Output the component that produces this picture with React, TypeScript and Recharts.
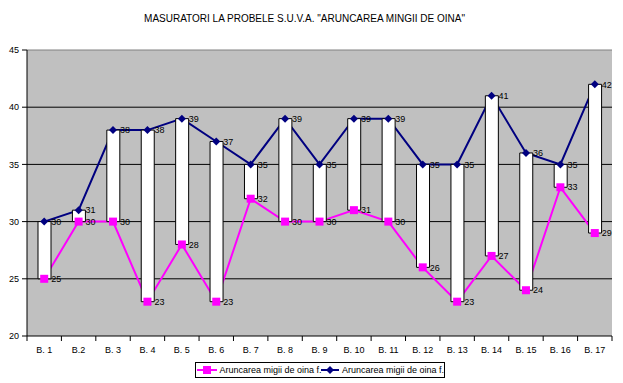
import React from "react";
import {
  ComposedChart, Line, Bar, XAxis, YAxis, CartesianGrid, Legend, LabelList, ReferenceLine,
} from "recharts";

const categories = [
  "B. 1", "B.2", "B. 3", "B. 4", "B. 5", "B. 6", "B. 7", "B. 8", "B. 9",
  "B. 10", "B. 11", "B. 12", "B. 13", "B. 14", "B. 15", "B. 16", "B. 17",
];
const pinkValues = [25, 30, 30, 23, 28, 23, 32, 30, 30, 31, 30, 26, 23, 27, 24, 33, 29];
const navyValues = [30, 31, 38, 38, 39, 37, 35, 39, 35, 39, 39, 35, 35, 41, 36, 35, 42];
const yTicks = [20, 25, 30, 35, 40, 45];
const gridValues = [25, 30, 35, 40];
const seriesName = "Aruncarea migii de oina f.";
const title = 'MASURATORI LA PROBELE S.U.V.A. "ARUNCAREA MINGII DE OINA"';

const PINK = "#FF00FF";
const NAVY = "#000080";
const FONT = "'Liberation Sans', Arial, sans-serif";
const HALF_BAND = 585 / 17 / 2;

const data = categories.map((name, i) => ({
  name,
  pink: pinkValues[i],
  navy: navyValues[i],
  range: [Math.min(pinkValues[i], navyValues[i]), Math.max(pinkValues[i], navyValues[i])],
}));

function SquareDot(props: any) {
  const { cx, cy } = props;
  if (cx == null || cy == null) return null;
  return <rect x={cx - 4} y={cy - 4} width={8} height={8} fill={PINK} />;
}

function DiamondDot(props: any) {
  const { cx, cy } = props;
  if (cx == null || cy == null) return null;
  const r = 4;
  return <polygon points={`${cx},${cy - r} ${cx + r},${cy} ${cx},${cy + r} ${cx - r},${cy}`} fill={NAVY} />;
}

function XTick(props: any) {
  const { x, y, payload, index } = props;
  return (
    <g>
      <line x1={x - HALF_BAND} x2={x - HALF_BAND} y1={y} y2={y + 5} stroke="#000" />
      {index === categories.length - 1 && (
        <line x1={x + HALF_BAND} x2={x + HALF_BAND} y1={y} y2={y + 5} stroke="#000" />
      )}
      <text x={x} y={y + 17} textAnchor="middle" fontSize={9} fontFamily={FONT} fill="#000">
        {payload.value}
      </text>
    </g>
  );
}

function LegendBox() {
  return (
    <div style={{
      border: "1px solid #000", background: "#fff", width: 248, height: 14,
      display: "flex", alignItems: "center", fontSize: 9, fontFamily: FONT, color: "#000",
    }}>
      <svg width={22} height={10} style={{ marginLeft: 1 }}>
        <line x1={0} x2={20} y1={5} y2={5} stroke={PINK} strokeWidth={2} />
        <rect x={6} y={1} width={8} height={8} fill={PINK} />
      </svg>
      <span style={{ marginLeft: 2, width: 102, whiteSpace: "nowrap" }}>{seriesName}</span>
      <svg width={20} height={10}>
        <line x1={0} x2={18} y1={5} y2={5} stroke={NAVY} strokeWidth={2} />
        <polygon points="9,1 13,5 9,9 5,5" fill={NAVY} />
      </svg>
      <span style={{ marginLeft: 2, whiteSpace: "nowrap" }}>{seriesName}</span>
    </div>
  );
}

export default function App() {
  return (
    <div style={{ position: "absolute", left: 0, top: 0, width: 623, height: 383, background: "#fff" }}>
      <div style={{
        position: "absolute", left: 0, top: 13, width: 609, textAlign: "center",
        fontFamily: FONT, fontSize: 10, lineHeight: "12px", color: "#000", whiteSpace: "nowrap",
      }}>
        {title}
      </div>
      <ComposedChart
        width={623}
        height={383}
        data={data}
        margin={{ top: 50, right: 11, left: 0, bottom: 11 }}
        barCategoryGap={0}
      >
        <CartesianGrid
          vertical={false}
          horizontalValues={gridValues}
          stroke="#000"
          strokeOpacity={1}
          fill="#C0C0C0"
          fillOpacity={1}
        />
        <XAxis
          dataKey="name"
          height={20}
          tickSize={0}
          tickMargin={0}
          tickLine={false}
          axisLine={{ stroke: "#000" }}
          tick={<XTick />}
          interval={0}
        />
        <YAxis
          width={27}
          domain={[20, 45]}
          ticks={yTicks}
          tickSize={5}
          tickMargin={3}
          axisLine={{ stroke: "#000" }}
          tickLine={{ stroke: "#000" }}
          tick={{ fontSize: 9, fill: "#000", fontFamily: FONT }}
          interval={0}
        />
        <YAxis
          yAxisId="right"
          orientation="right"
          width={0}
          domain={[20, 45]}
          tick={false}
          tickLine={false}
          axisLine={{ stroke: "#808080" }}
        />
        <ReferenceLine y={45} stroke="#808080" />
        <Line
          dataKey="navy"
          type="linear"
          stroke={NAVY}
          strokeWidth={2}
          dot={false}
          activeDot={false}
          legendType="none"
          isAnimationActive={false}
          zIndex={250}
        />
        <Line
          dataKey="pink"
          type="linear"
          stroke={PINK}
          strokeWidth={2}
          dot={false}
          activeDot={false}
          legendType="none"
          isAnimationActive={false}
          zIndex={250}
        />
        <Bar
          dataKey="range"
          barSize={13}
          fill="#fff"
          stroke="#000"
          strokeWidth={1}
          legendType="none"
          isAnimationActive={false}
          zIndex={300}
        />
        <Line
          dataKey="navy"
          stroke="none"
          dot={<DiamondDot />}
          activeDot={false}
          legendType="none"
          isAnimationActive={false}
          zIndex={650}
        >
          <LabelList dataKey="navy" position="right" offset={7} fontSize={9} fill="#000" fontFamily={FONT} />
        </Line>
        <Line
          dataKey="pink"
          stroke="none"
          dot={<SquareDot />}
          activeDot={false}
          legendType="none"
          isAnimationActive={false}
          zIndex={660}
        >
          <LabelList dataKey="pink" position="right" offset={7} fontSize={9} fill="#000" fontFamily={FONT} />
        </Line>
        <Legend
          verticalAlign="bottom"
          content={() => <LegendBox />}
          wrapperStyle={{ position: "absolute", left: 195, top: 362, width: 250, height: 16 }}
        />
      </ComposedChart>
    </div>
  );
}
